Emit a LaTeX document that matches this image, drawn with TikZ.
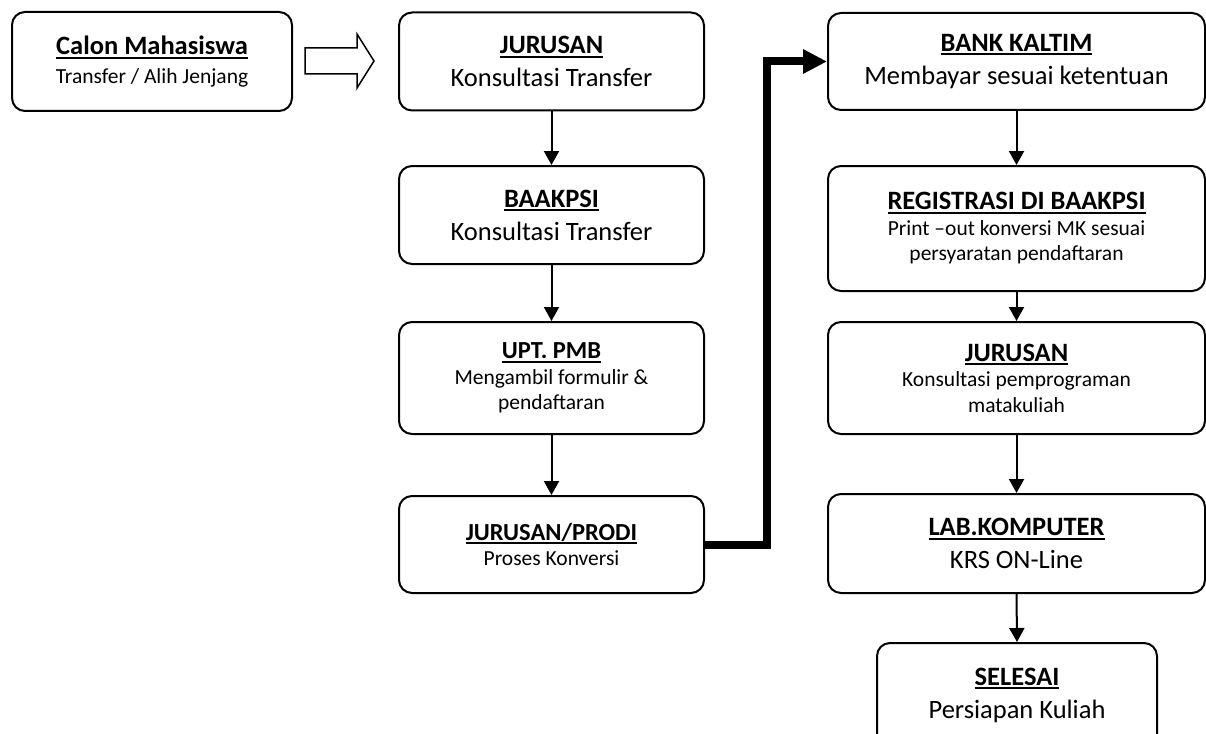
\documentclass[tikz,border=0pt]{standalone}
\usepackage{fontspec}
\setmainfont{Carlito}
\usetikzlibrary{
  arrows.meta,
}
\newcommand\besar{\fontsize{26.5}{33}\selectfont}
\newcommand\kecil{\fontsize{21.5}{25.5}\selectfont}
\newcommand\judul[2][26.5]{\setbox0\hbox{\fontsize{#1}{#1}\selectfont\bfseries #2}\leavevmode\rlap{\rule[-4pt]{\wd0}{2pt}}\box0}

\begin{document}
\begin{tikzpicture}[x=1pt, y=-1pt,
  kotak/.style={draw, line width=2, rounded corners=13, align=center, inner sep=0},
  panah/.style={line width=2, -{Triangle[length=14pt,width=15pt]}},
  tebal/.style={line width=8, line join=miter, -{Triangle[length=24pt,width=23pt]}}]
\useasboundingbox (0,0) rectangle (1206,733);
\clip (0,0) rectangle (1206,733);
% kolom kiri
\node[kotak, font=\fontsize{21.5}{28.5}\selectfont, minimum width=280, minimum height=99] (calon) at (152,61.5) {\judul{Calon Mahasiswa}\\Transfer / Alih Jenjang};
\node[kotak, font=\besar, minimum width=305, minimum height=98] (jur1) at (551.5,61.5) {\judul{JURUSAN}\\Konsultasi Transfer};
\node[kotak, font=\besar, minimum width=305, minimum height=98] (baak) at (551.5,215) {\judul{BAAKPSI}\\Konsultasi Transfer};
\node[kotak, font=\kecil, minimum width=305, minimum height=112] (upt) at (551.5,378) {\judul[24.5]{UPT. PMB}\\Mengambil formulir \&\\pendaftaran};
\node[kotak, font=\kecil, minimum width=305, minimum height=97] (prodi) at (551.5,544.5) {\judul[24.5]{JURUSAN/PRODI}\\Proses Konversi};
% kolom kanan
\node[kotak, font=\besar, minimum width=377, minimum height=97] (bank) at (1016.5,61.5) {\judul{BANK KALTIM}\\Membayar sesuai ketentuan};
\node[kotak, font=\kecil, minimum width=377, minimum height=125] (reg) at (1016.5,228.5) {\judul{REGISTRASI DI BAAKPSI}\\Print –out konversi MK sesuai\\persyaratan pendaftaran};
\node[kotak, font=\kecil, minimum width=377, minimum height=112] (jur2) at (1016.5,378) {\judul{JURUSAN}\\Konsultasi pemprograman\\matakuliah};
\node[kotak, font=\besar, minimum width=377, minimum height=99] (lab) at (1016.5,543.5) {\judul{LAB.KOMPUTER}\\KRS ON-Line};
\node[kotak, font=\besar, minimum width=280, minimum height=104] (selesai) at (1017,695) {\judul{SELESAI}\\Persiapan Kuliah};
% panah
\draw[line width=1.5, line join=miter] (305,48) -- (357,48) -- (357,34) -- (374,61) -- (357,88) -- (357,74) -- (305,74) -- cycle;
\foreach \a/\b in {jur1/baak, baak/upt, upt/prodi, bank/reg, reg/jur2, jur2/lab, lab/selesai}
  \draw[panah] (\a.south) -- (\b.north);
\draw[tebal] (prodi.east) -- ++(62,0) |- (bank.west);
\end{tikzpicture}
\end{document}
